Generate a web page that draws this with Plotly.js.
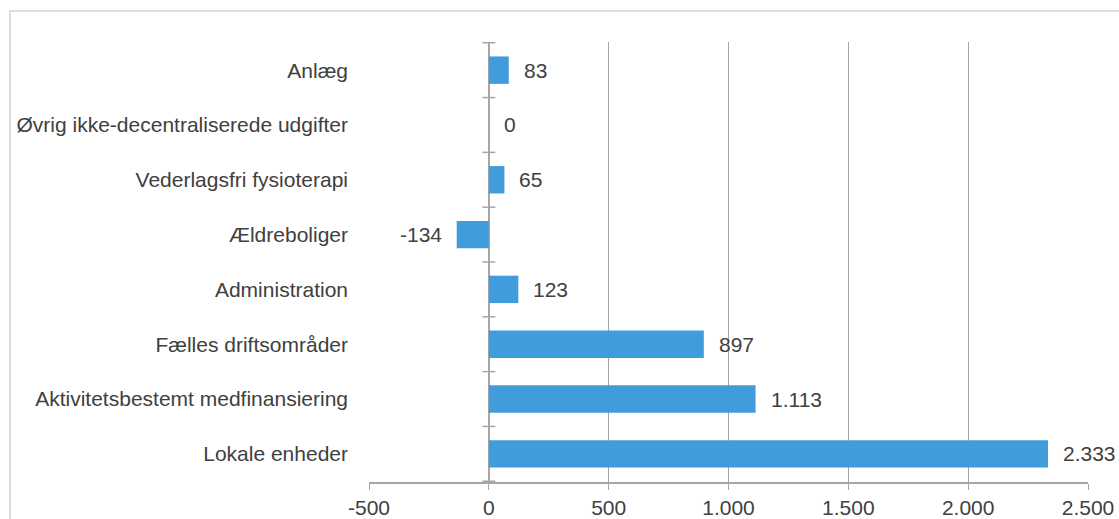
<!DOCTYPE html>
<html>
<head>
<meta charset="utf-8">
<script src="https://cdn.plot.ly/plotly-3.0.1.min.js"></script>
<style>
  html, body { margin: 0; padding: 0; background: #ffffff; overflow: hidden; }
  #frame { position: absolute; left: 9px; top: 10px; width: 1200px; height: 600px;
           border-left: 2px solid #DDDDDD; border-top: 2px solid #DDDDDD; }
  #chart { position: absolute; left: 0; top: 0; width: 1119px; height: 519px; }
</style>
</head>
<body>
<div id="frame"></div>
<div id="chart"></div>
<script>
// Categories from top to bottom
const categories = [
  "Anlæg",
  "Øvrig ikke-decentraliserede udgifter",
  "Vederlagsfri fysioterapi",
  "Ældreboliger",
  "Administration",
  "Fælles driftsområder",
  "Aktivitetsbestemt medfinansiering",
  "Lokale enheder"
];
const values = [83, 0, 65, -134, 123, 897, 1113, 2333];
const xTickValues = [-500, 0, 500, 1000, 1500, 2000, 2500];
const xTickLabels = ["-500", "0", "500", "1.000", "1.500", "2.000", "2.500"];

function fmtDa(v) {
  const s = String(Math.abs(v)).replace(/\B(?=(\d{3})+(?!\d))/g, ".");
  return (v < 0 ? "-" : "") + s;
}

const textColor = "#404040";
const gridColor = "#A6A6A6";
const fontFamily = "'Liberation Sans', Arial, sans-serif";
const fontSize = 21;

const trace = {
  type: "bar",
  orientation: "h",
  x: values,
  y: categories,
  marker: { color: "#409CDA" },
  hoverinfo: "x+y"
};

const annotations = values.map((v, i) => ({
  x: v,
  y: categories[i],
  xref: "x",
  yref: "y",
  text: fmtDa(v),
  showarrow: false,
  xanchor: v < 0 ? "right" : "left",
  yanchor: "middle",
  xshift: v < 0 ? -13 : 13,
  font: { family: fontFamily, size: fontSize, color: textColor }
}));

// Cross ticks on the zero line at category boundaries
const shapes = [];
for (let i = 0; i <= categories.length; i++) {
  shapes.push({
    type: "line",
    xref: "x",
    yref: "y",
    xsizemode: "pixel",
    xanchor: 0,
    x0: -6.5,
    x1: 6.5,
    y0: i - 0.5,
    y1: i - 0.5,
    line: { color: gridColor, width: 1.5 }
  });
}

const layout = {
  width: 1119,
  height: 519,
  margin: { l: 369, r: 31, t: 42, b: 37, pad: 0 },
  paper_bgcolor: "rgba(0,0,0,0)",
  plot_bgcolor: "rgba(0,0,0,0)",
  separators: ",.",
  showlegend: false,
  bargap: 0.5,
  font: { family: fontFamily, size: fontSize, color: textColor },
  xaxis: {
    range: [-500, 2500],
    tickvals: xTickValues,
    ticktext: xTickLabels,
    showgrid: true,
    gridcolor: gridColor,
    gridwidth: 1,
    showline: true,
    linecolor: gridColor,
    linewidth: 1.5,
    ticks: "outside",
    ticklen: 6,
    tickcolor: gridColor,
    tickwidth: 1,
    zeroline: true,
    zerolinecolor: gridColor,
    zerolinewidth: 1.5,
    tickfont: { family: fontFamily, size: fontSize, color: textColor },
    fixedrange: true
  },
  yaxis: {
    type: "category",
    autorange: "reversed",
    showgrid: false,
    zeroline: false,
    showline: false,
    ticks: "",
    ticklabelstandoff: 20,
    tickfont: { family: fontFamily, size: fontSize, color: textColor },
    fixedrange: true
  },
  annotations: annotations,
  shapes: shapes
};

Plotly.newPlot("chart", [trace], layout, { displayModeBar: false, staticPlot: true });
</script>
</body>
</html>
